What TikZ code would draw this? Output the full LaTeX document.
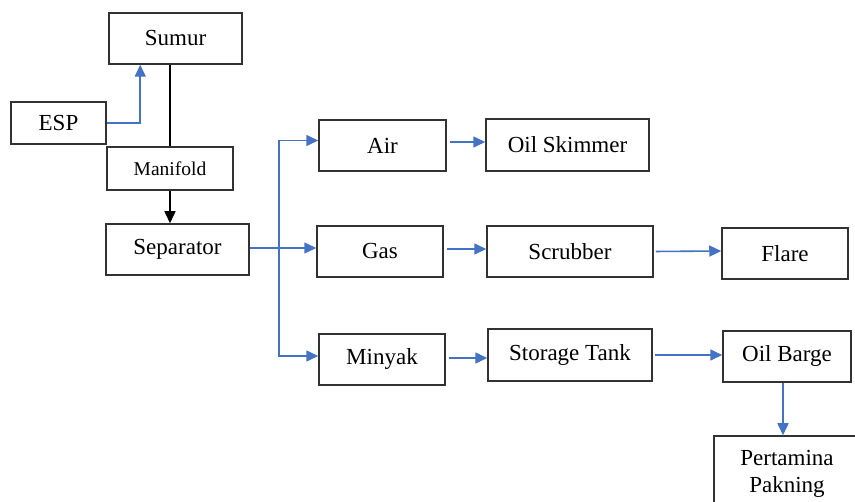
\documentclass[tikz,border=0pt]{standalone}
\usepackage{fontspec}
\setmainfont{Liberation Serif}
\usetikzlibrary{arrows.meta,calc}
\definecolor{flowblue}{RGB}{68,114,196}
\definecolor{boxgray}{RGB}{50,50,50}
\tikzset{
  box/.style={draw=boxgray, line width=1.5pt, rectangle, inner sep=0pt, align=center,
    font=\fontsize{23}{27}\selectfont},
  bflow/.style={draw=flowblue, line width=1.6pt, -{Triangle[length=12pt,width=11pt]}},
  bline/.style={draw=flowblue, line width=1.6pt},
  kflow/.style={draw=black, line width=1.5pt, -{Triangle[length=12pt,width=11pt]}},
  kline/.style={draw=black, line width=1.5pt},
}
\begin{document}
\begin{tikzpicture}[x=1pt,y=-1pt]
\useasboundingbox (0,0) rectangle (855,502);
\clip (0,0) rectangle (855,502);
\fill[white] (0,0) rectangle (855,502);
\node[box, minimum width=133, minimum height=51] (sumur) at (175.5,38.5) {Sumur};
\node[box, minimum width=95, minimum height=42] (esp) at (58.5,123) {ESP};
\node[box, minimum width=126, minimum height=43, font=\fontsize{19.5}{23}\selectfont] (manifold) at (170,168.5) {Manifold};
\node[box, minimum width=143, minimum height=51] (separator) at (177.5,249.5) {Separator};
\node[box, minimum width=127, minimum height=51] (air) at (382.5,145.5) {Air};
\node[box, minimum width=163, minimum height=52] (skimmer) at (567.5,145) {Oil Skimmer};
\node[box, minimum width=126, minimum height=51] (gas) at (380,251.5) {Gas};
\node[box, minimum width=166, minimum height=51] (scrubber) at (570,251.5) {Scrubber};
\node[box, minimum width=126, minimum height=51] (minyak) at (382,359.5) {Minyak};
\node[box, minimum width=164, minimum height=52] (storage) at (570,355) {Storage Tank};
\node[box, minimum width=126, minimum height=51] (flare) at (785,253.5) {Flare};
\node[box, minimum width=128, minimum height=51] (barge) at (787,356.5) {Oil Barge};
\node[box, minimum width=146, minimum height=76] (pertamina) at (787,474) {Pertamina\\Pakning};
% ESP to Sumur
\coordinate (espup) at ($(sumur.south west)+(32,0)$);
\draw[bflow] (esp.east) -| (espup);
% Sumur - Manifold - Separator
\draw[kline] (manifold.north) -- (manifold.north |- sumur.south);
\draw[kflow] (manifold.south) -- (manifold.south |- separator.north);
% Separator branches
\coordinate (tj) at (279,248);
\draw[bline] ($(separator.east)+(0,-1.5)$) -- (tj);
\draw[bflow] (tj) |- ($(air.west)+(0,-5)$);
\draw[bflow] (tj) -- ($(gas.west)+(0,-3.5)$);
\draw[bflow] (tj) |- ($(minyak.west)+(0,-3.5)$);
% rows
\draw[bflow, shorten <=3pt] ($(air.east)+(0,-3.5)$) -- ($(skimmer.west)+(0,-3)$);
\draw[bflow, shorten <=3pt] ($(gas.east)+(0,-2.5)$) -- ($(scrubber.west)+(0,-2.5)$);
\draw[bflow, shorten <=3pt] ($(minyak.east)+(0,-1.5)$) -- ($(storage.west)+(0,3)$);
\draw[bflow, shorten <=2pt] (scrubber.east) -- ($(flare.west)+(0,-2.5)$);
\draw[bflow, shorten <=2pt] (storage.east) -- ($(barge.west)+(0,-1.5)$);
\coordinate (bargedown) at ($(barge.south)+(-4,0)$);
\coordinate (pertop) at ($(pertamina.north)+(-4,0)$);
\draw[bflow] (bargedown) -- (pertop);
\end{tikzpicture}
\end{document}
